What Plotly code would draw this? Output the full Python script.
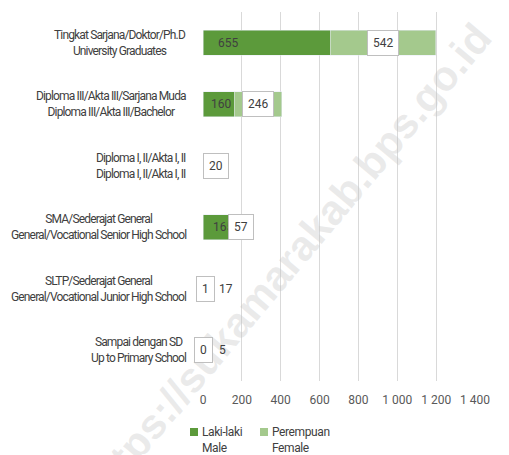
import plotly.graph_objects as go

categories = [
    "Tingkat Sarjana/Doktor/Ph.D<br>University Graduates",
    "Diploma III/Akta III/Sarjana Muda<br>Diploma III/Akta III/Bachelor",
    "Diploma I, II/Akta I, II<br>Diploma I, II/Akta I, II",
    "SMA/Sederajat General<br>General/Vocational Senior High School",
    "SLTP/Sederajat General<br>General/Vocational Junior High School",
    "Sampai dengan SD<br>Up to Primary School",
]
male = [655, 160, 0, 165, 1, 0]
female = [542, 246, 20, 57, 17, 5]
male_label = ["655", "160", "", "165", "1", "0"]
female_label = ["542", "246", "20", "57", "17", "5"]
tick_vals = [0, 200, 400, 600, 800, 1000, 1200, 1400]
tick_text = ["0", "200", "400", "600", "800", "1 000", "1 200", "1 400"]
series_names = ["Laki-laki<br>Male", "Perempuan<br>Female"]

FONT = "Roboto, Liberation Sans, sans-serif"
TXT = "#404040"
MALE_C = "#5C9A3B"
FEMALE_C = "#A4C98D"

# page body has an 8px margin; reference plot area is x 203..475, y 12..381
OFF = 8
PL, PR, PT, PB = 203, 475, 12, 381
W, H = 509 - OFF, 455 - OFF


def px_x(p):
    return (p - PL) / (PR - PL)


def px_y(p):
    return (PB - p) / (PB - PT)


def squeeze(t, ls):
    return "<br>".join('<span style="letter-spacing:%s">%s</span>' % (ls, s) for s in t.split("<br>"))


fig = go.Figure()
fig.add_trace(go.Bar(y=categories, x=male, orientation="h", name=series_names[0],
                     marker=dict(color=MALE_C), hoverinfo="x", showlegend=False))
fig.add_trace(go.Bar(y=categories, x=female, orientation="h", name=series_names[1],
                     marker=dict(color=FEMALE_C), hoverinfo="x", showlegend=False))

ann = []
# watermark first (drawn beneath the other texts)
ann.append(dict(x=px_x(287), y=px_y(262), xref="paper", yref="paper",
                xanchor="center", yanchor="middle",
                text="<b>https://sukamarakab.bps.go.id</b>",
                showarrow=False, textangle=-50,
                font=dict(family="Liberation Sans, Arial, sans-serif", size=42, color="rgba(195,195,195,0.35)")))

for c in categories:
    ann.append(dict(x=0, y=c, xref="paper", yref="y", text=squeeze(c, "-0.85px"), showarrow=False,
                    xanchor="right", xshift=-15, align="center",
                    font=dict(family=FONT, size=12, color=TXT)))

box = dict(bgcolor="white", bordercolor="#BFBFBF", borderwidth=1, borderpad=5)
lf = dict(family=FONT, size=12, color=TXT)

ann.append(dict(x=0, y=categories[0], text=male_label[0], showarrow=False, xanchor="left", xshift=13, font=lf))
ann.append(dict(x=male[0] + female[0] / 2, y=categories[0], text=female_label[0], showarrow=False, font=lf, **box))
ann.append(dict(x=male[1], y=categories[1], text=male_label[1], showarrow=False, xanchor="right", xshift=-1, font=lf))
ann.append(dict(x=male[1] + female[1] / 2, y=categories[1], text=female_label[1], showarrow=False, font=lf, **box))
ann.append(dict(x=male[2] + female[2] / 2, y=categories[2], text=female_label[2], showarrow=False, xshift=11, font=lf, **box))
ann.append(dict(x=male[3], y=categories[3], text=male_label[3], showarrow=False, xanchor="right", xshift=0, font=lf))
ann.append(dict(x=male[3] + female[3] / 2, y=categories[3], text=female_label[3], showarrow=False, font=lf, **box))
ann.append(dict(x=male[4], y=categories[4], text=male_label[4], showarrow=False, xshift=2, font=lf, **box))
ann.append(dict(x=male[4] + female[4], y=categories[4], text=female_label[4], showarrow=False, xanchor="left", xshift=10, font=lf))
ann.append(dict(x=male[5], y=categories[5], text=male_label[5], showarrow=False, xshift=0, font=lf, **box))
ann.append(dict(x=male[5] + female[5], y=categories[5], text=female_label[5], showarrow=False, xanchor="left", xshift=13, font=lf))

# manual legend (square + two-line text)
shapes = []
for i, (nm, col) in enumerate(zip(series_names, [MALE_C, FEMALE_C])):
    x0 = 190 + 70 * i
    shapes.append(dict(type="rect", xref="paper", yref="paper",
                       x0=px_x(x0), x1=px_x(x0 + 8), y0=px_y(436), y1=px_y(428),
                       fillcolor=col, line=dict(width=0)))
    ann.append(dict(x=px_x(x0 + 10), y=px_y(423), xref="paper", yref="paper", text=squeeze(nm, "-0.4px"),
                    showarrow=False, xanchor="left", yanchor="top", align="left",
                    font=dict(family=FONT, size=12, color=TXT)))

fig.update_layout(
    width=W, height=H,
    margin=dict(l=PL - OFF, r=W - (PR - OFF), t=PT - OFF, b=H - (PB - OFF), autoexpand=False),
    barmode="stack", bargap=0.6,
    paper_bgcolor="white", plot_bgcolor="white",
    font=dict(family=FONT, size=12, color=TXT),
    xaxis=dict(range=[0, 1400], tickvals=tick_vals, ticktext=tick_text, showgrid=True,
               gridcolor="#D9D9D9", gridwidth=1, zeroline=False, showline=False,
               ticklabelstandoff=10, tickfont=dict(family=FONT, size=12, color="#595959"),
               fixedrange=True, automargin=False),
    yaxis=dict(autorange="reversed", showticklabels=False, showgrid=False, zeroline=False,
               showline=False, fixedrange=True, automargin=False),
    annotations=ann,
    shapes=shapes,
    showlegend=False,
)
fig.write_html("out.html")
